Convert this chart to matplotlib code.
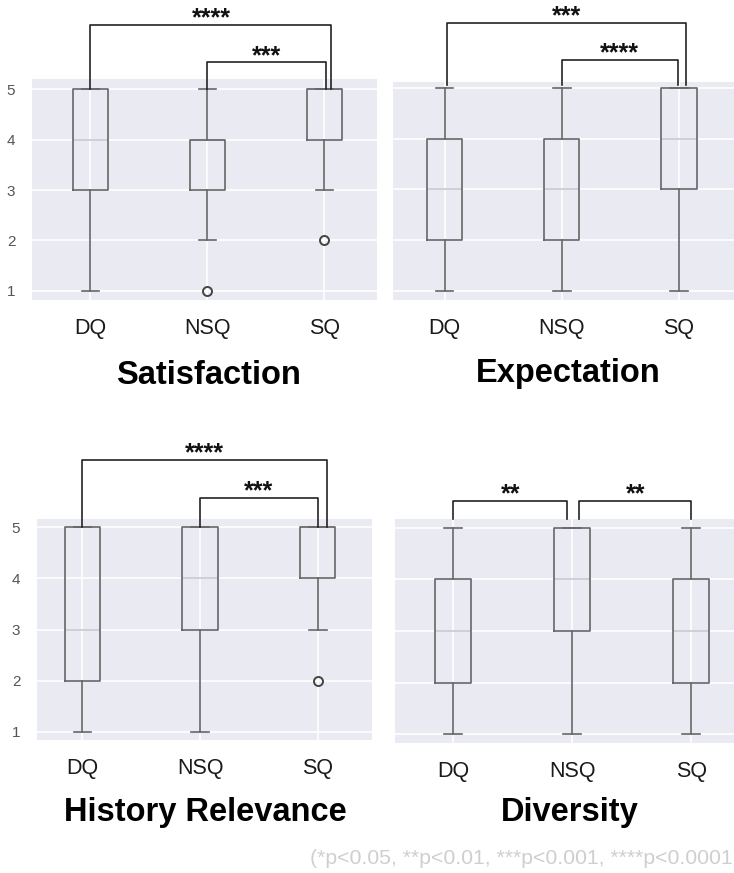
import matplotlib
matplotlib.use("Agg")
import matplotlib.pyplot as plt

plt.rcParams['font.family'] = ['Liberation Sans', 'DejaVu Sans']

categories = ["DQ", "NSQ", "SQ"]

# five-number summaries per group: whislo, q1, med, q3, whishi
satisfaction = [[1, 3, 4, 5, 5], [2, 3, 4, 4, 5], [3, 4, 5, 5, 5]]
satisfaction_fliers = [[], [1], [2]]
expectation = [[1, 2, 3, 4, 5], [1, 2, 3, 4, 5], [1, 3, 4, 5, 5]]
expectation_fliers = [[], [], []]
history = [[1, 2, 3, 5, 5], [1, 3, 4, 5, 5], [3, 4, 5, 5, 5]]
history_fliers = [[], [], [2]]
diversity = [[1, 2, 3, 4, 5], [1, 3, 4, 5, 5], [1, 2, 3, 4, 5]]
diversity_fliers = [[], [], []]

# significance brackets: (x_left, x_right, bracket height, leg bottom, label)
satisfaction_sig = [(0, 2.06, 6.27, 5.0, "****"), (1, 2.01, 5.53, 5.0, "***")]
expectation_sig = [(0.02, 2.06, 6.28, 5.06, "***"), (1, 1.99, 5.55, 5.06, "****")]
history_sig = [(0, 2.08, 6.31, 5.0, "****"), (1, 2.0, 5.57, 5.0, "***")]
diversity_sig = [(0, 0.96, 5.52, 5.17, "**"), (1.06, 2.0, 5.52, 5.17, "**")]

W, H = 734, 873
fig = plt.figure(figsize=(W / 100, H / 100), dpi=100)


def px_axes(l, t, r, b):
    return fig.add_axes([l / W, 1 - b / H, (r - l) / W, (b - t) / H])


panels = [
    ("Satisfaction", satisfaction, satisfaction_fliers, satisfaction_sig,
     (32, 79, 377, 300), (-0.5, 2.45), (0.82, 5.2), True, (208, 375)),
    ("Expectation", expectation, expectation_fliers, expectation_sig,
     (393, 82, 734, 300), (-0.44, 2.47), (0.82, 5.12), False, (568, 373)),
    ("History Relevance", history, history_fliers, history_sig,
     (37, 519, 372, 740), (-0.385, 2.46), (0.84, 5.16), True, (205, 813)),
    ("Diversity", diversity, diversity_fliers, diversity_sig,
     (395, 519, 734, 743), (-0.49, 2.36), (0.83, 5.17), False, (570, 813)),
]

box_col = "#666666"

for title, stats, fliers, sigs, box, xl, yl, show_y, tpos in panels:
    ax = px_axes(*box)
    ax.set_facecolor("#EAEAF2")
    for s in ax.spines.values():
        s.set_visible(False)
    ax.set_axisbelow(True)
    ax.grid(True, color="white", linewidth=1.2)

    bstats = []
    for name, st, fl in zip(categories, stats, fliers):
        bstats.append(dict(label=name, whislo=st[0], q1=st[1], med=st[2],
                           q3=st[3], whishi=st[4], fliers=fl))
    ax.bxp(bstats, positions=range(len(categories)), widths=0.3,
           boxprops=dict(color=box_col, linewidth=1.2),
           whiskerprops=dict(color=box_col, linewidth=1.2),
           capprops=dict(color=box_col, linewidth=1.2),
           medianprops=dict(color="#c4c4c8", linewidth=1.1, zorder=1.9),
           flierprops=dict(marker="o", markerfacecolor="none",
                           markeredgecolor="#444444", markersize=6.5,
                           markeredgewidth=1.4))

    ax.set_xlim(*xl)
    ax.set_ylim(*yl)
    ax.set_yticks([1, 2, 3, 4, 5])
    ax.set_xticks(range(len(categories)))
    ax.set_xticklabels(categories, fontsize=15.5, color="#1a1a1a")
    ax.tick_params(axis="x", length=0, pad=13)
    ax.tick_params(axis="y", length=0, pad=12, labelsize=11,
                   labelcolor="#555555")
    if not show_y:
        ax.set_yticklabels([])

    for x1, x2, yb, ylow, lab in sigs:
        ax.plot([x1, x1, x2, x2], [ylow, yb, yb, ylow], color="#222222",
                linewidth=1.2, clip_on=False)
        ax.text((x1 + x2) / 2, yb - 0.01, lab, ha="center", va="baseline",
                fontsize=18, fontweight="bold", color="#111111", clip_on=False)

    fig.text(tpos[0] / W, 1 - tpos[1] / H, title, ha="center", va="center",
             fontsize=23.5, fontweight="bold", color="black")

fig.text(733 / W, 1 - 858 / H, "(*p<0.05, **p<0.01, ***p<0.001, ****p<0.0001",
         ha="right", va="center", fontsize=15.3, color="#cfcfcf")

fig.savefig("out.png", dpi=100)
